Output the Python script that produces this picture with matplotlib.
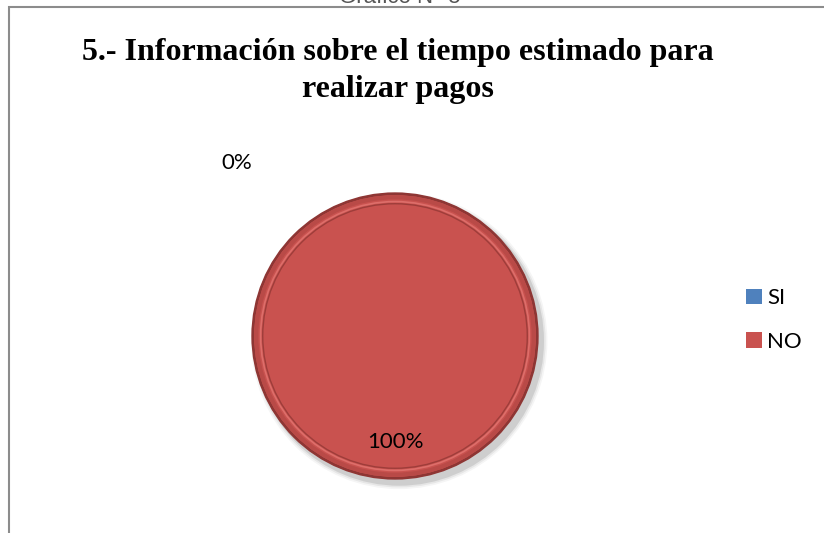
import matplotlib
matplotlib.use("Agg")
import matplotlib.pyplot as plt
from matplotlib.patches import Circle, Rectangle

categories = ["SI", "NO"]
values = [0, 100]
colors = ["#4F81BD", "#C9524F"]
title_lines = ["5.- Información sobre el tiempo estimado para", "realizar pagos"]
top_text = "Gráfico N° 5"

W, H = 824, 533
fig = plt.figure(figsize=(W / 100, H / 100), dpi=100)

# frame
fig.add_artist(Rectangle((9 / W, -0.1), 1.2, (H - 7) / H + 0.1,
                         transform=fig.transFigure, fill=False,
                         edgecolor="#8c8c8c", linewidth=1.5))
fig.text(400 / W, (H - 3) / H, top_text, ha="center", va="baseline",
         fontsize=16, color="#555555", family="Liberation Sans")

fig.text(398 / W, (H - 60) / H, title_lines[0], ha="center", va="baseline",
         fontsize=23, fontweight="bold", family="Liberation Serif")
fig.text(398 / W, (H - 97) / H, title_lines[1], ha="center", va="baseline",
         fontsize=23, fontweight="bold", family="Liberation Serif")

R = 143.0
cx, cy = 395, 336
half = 200
ax = fig.add_axes([(cx - half) / W, (H - cy - half) / H, 2 * half / W, 2 * half / H])
lim = half / R

# shadow
for i, a in enumerate([0.04, 0.06, 0.10]):
    ax.add_patch(Circle((0.03, -0.035), 1.0 + 0.012 * (3 - i), color="black",
                        alpha=a, zorder=0, linewidth=0))

wedges, texts, autotexts = ax.pie(
    values, colors=colors, startangle=90, counterclock=False,
    autopct=lambda p: f"{p:.0f}%", pctdistance=0.74,
    wedgeprops=dict(edgecolor="none"),
    textprops=dict(fontsize=16, family="Lato", color="black"),
)
ax.set_xlim(-lim, lim)
ax.set_ylim(-lim, lim)
ax.set_aspect("equal")
ax.axis("off")
for w in wedges:
    w.set_zorder(1)

# 0% label outside top-left
autotexts[0].set_position((-1.11, 1.21))
autotexts[0].set_zorder(5)
autotexts[1].set_zorder(5)

# bevel rings
ax.add_patch(Circle((0, 0), 0.995, fill=False, edgecolor="#8E3634", linewidth=2.0, zorder=2))
ax.add_patch(Circle((0, 0), 0.97, fill=False, edgecolor="#B94A47", linewidth=3, zorder=2))
ax.add_patch(Circle((0, 0), 0.94, fill=False, edgecolor="#DD6E6A", linewidth=1.2, zorder=2))
ax.add_patch(Circle((0, 0), 0.925, fill=False, edgecolor="#9E3D3A", linewidth=1.0, zorder=2))

# legend
handles = [Rectangle((0, 0), 1, 1, facecolor=c, edgecolor="none") for c in colors]
fig.legend(handles, categories, loc="center left",
           bbox_to_anchor=(746 / W, (H - 320) / H), frameon=False,
           prop=dict(family="Lato", size=16),
           handlelength=0.7, handleheight=0.7, handletextpad=0.25,
           labelspacing=1.05, borderpad=0, borderaxespad=0)

fig.savefig("out.png", dpi=100)
